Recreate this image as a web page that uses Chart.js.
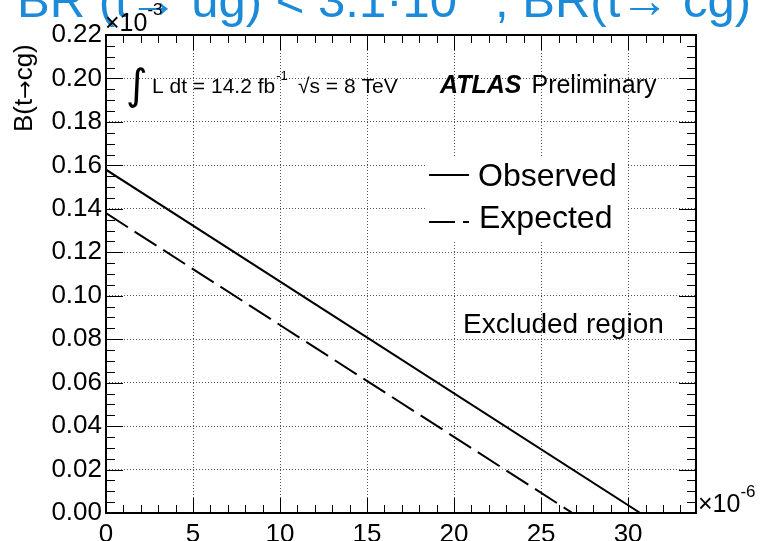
<!DOCTYPE html>
<html>
<head>
<meta charset="utf-8">
<script src="https://cdn.jsdelivr.net/npm/chart.js@4/dist/chart.umd.min.js"></script>
<style>
    html, body { margin: 0; padding: 0; background: #fff; }
    canvas { display: block; }
</style>
</head>
<body>
<canvas id="limitChart" width="763" height="541"></canvas>
<script>
// x in units of 1e-6 (BR t->ug), y in units of 1e-3 (BR t->cg)
const xTickValues = [0, 5, 10, 15, 20, 25, 30];
const yTickValues = [0, 0.02, 0.04, 0.06, 0.08, 0.10, 0.12, 0.14, 0.16, 0.18, 0.20, 0.22];
const observedX = [0, 30.7];
const observedY = [0.158, 0];
const expectedX = [0, 26.8];
const expectedY = [0.138, 0];
const xMax = 33.9;
const yMax = 0.22;

const FONT = '"Liberation Sans", Arial, Helvetica, sans-serif';
const ARROW_FONT = '"DejaVu Sans", sans-serif';

function toPoints(xs, ys) {
    return xs.map((x, i) => ({ x: x, y: ys[i] }));
}

function txt(ctx, s, x, y, size, opts) {
    opts = opts || {};
    ctx.font = (opts.style || "") + " " + size + "px " + (opts.family || FONT);
    ctx.fillStyle = opts.color || "#000";
    ctx.textAlign = opts.align || "left";
    ctx.textBaseline = "alphabetic";
    ctx.fillText(s, x, y);
    return ctx.measureText(s).width;
}

// draw a string squeezed/stretched horizontally by sx
function txtScaled(ctx, s, x, y, size, sx, color) {
    ctx.save();
    ctx.translate(x, y);
    ctx.scale(sx, 1);
    const w = txt(ctx, s, 0, 0, size, { color: color });
    ctx.restore();
    return w * sx;
}

// white box behind the legend (TLegend fill)
const legendBox = {
    id: "legendBox",
    beforeDatasetsDraw(chart) {
        const ctx = chart.ctx;
        ctx.save();
        ctx.fillStyle = "#fff";
        ctx.fillRect(427, 158, 199, 84);
        ctx.restore();
    }
};

// frame, inward ticks and all the annotation text
const decorations = {
    id: "decorations",
    afterDraw(chart) {
        const ctx = chart.ctx;
        const a = chart.chartArea;
        const xs = chart.scales.x, ys = chart.scales.y;
        ctx.save();
        ctx.strokeStyle = "#000";
        ctx.lineWidth = 1;
        ctx.beginPath();
        // x ticks, bottom and top
        for (let v = 0; v <= xMax; v += 1) {
            const px = Math.round(xs.getPixelForValue(v)) + 0.5;
            const len = (v % 5 === 0) ? 15 : 8;
            ctx.moveTo(px, a.bottom); ctx.lineTo(px, a.bottom - len);
            ctx.moveTo(px, a.top); ctx.lineTo(px, a.top + len);
        }
        // y ticks, left and right
        for (let k = 0; k <= 44; k++) {
            const py = Math.round(ys.getPixelForValue(k * 0.005)) + 0.5;
            const len = (k % 4 === 0) ? 17 : 9;
            ctx.moveTo(a.left, py); ctx.lineTo(a.left + len, py);
            ctx.moveTo(a.right, py); ctx.lineTo(a.right - len, py);
        }
        ctx.stroke();
        ctx.lineWidth = 2;
        ctx.strokeRect(a.left, a.top, a.right - a.left, a.bottom - a.top);

        // title, cut by the top of the canvas
        const blue = "#1b8ad8";
        const part1 = "BR (t→ ug) < 3.1·10";
        ctx.font = "49px " + FONT;
        const sx = (457 - 17) / ctx.measureText(part1).width;
        txtScaled(ctx, part1, 17, 17, 49, sx, blue);
        txt(ctx, "-5", 460, -5, 30, { color: blue });
        txtScaled(ctx, ", BR(t→ cg) < 1.6·10", 495, 17, 49, sx, blue);

        // exponents of the axes
        let w = txt(ctx, "×10", 105, 31, 25);
        txt(ctx, "-3", 105 + w, 15, 17);
        w = txt(ctx, "×10", 698, 512, 25);
        txt(ctx, "-6", 698 + w, 497, 17);

        // y axis title, written bottom to top, ending at the top of the frame
        ctx.save();
        ctx.translate(32, 132);
        ctx.rotate(-Math.PI / 2);
        let t = txt(ctx, "B(t", 0, 0, 26);
        t += txt(ctx, "→", t, 0, 22, { family: ARROW_FONT });
        txt(ctx, "cg)", t, 0, 26);
        ctx.restore();

        // luminosity / energy
        txt(ctx, "∫", 126, 99, 42, { family: ARROW_FONT });
        let x = 152;
        x += txt(ctx, "L dt = 14.2 fb", x, 93, 21);
        txt(ctx, "-1", x + 1, 80, 13);
        txt(ctx, "√s = 8 TeV", 298, 93, 21);

        // ATLAS Preliminary
        w = txt(ctx, "ATLAS", 440, 93, 25, { style: "italic bold" });
        txt(ctx, "Preliminary", 440 + w + 10, 93, 25);

        // legend
        ctx.lineWidth = 2;
        ctx.beginPath();
        ctx.moveTo(429, 175); ctx.lineTo(469, 175);
        ctx.stroke();
        ctx.setLineDash([26, 8]);
        ctx.beginPath();
        ctx.moveTo(429, 222); ctx.lineTo(469, 222);
        ctx.stroke();
        ctx.setLineDash([]);
        txt(ctx, "Observed", 478, 186, 32);
        txt(ctx, "Expected", 479, 228, 32);

        txt(ctx, "Excluded region", 463, 333, 28);
        ctx.restore();
    }
};

const ctx = document.getElementById("limitChart").getContext("2d");

new Chart(ctx, {
    type: "scatter",
    data: {
        datasets: [
            {
                label: "Observed",
                data: toPoints(observedX, observedY),
                showLine: true,
                borderColor: "#000",
                borderWidth: 2,
                pointRadius: 0
            },
            {
                label: "Expected",
                data: toPoints(expectedX, expectedY),
                showLine: true,
                borderColor: "#000",
                borderWidth: 2,
                borderDash: [26, 8],
                pointRadius: 0
            }
        ]
    },
    options: {
        responsive: false,
        animation: false,
        layout: { padding: { top: 35, right: 67, left: 0, bottom: 0 } },
        plugins: {
            legend: { display: false },
            tooltip: { enabled: false }
        },
        scales: {
            x: {
                type: "linear",
                min: 0,
                max: xMax,
                afterBuildTicks: s => { s.ticks = xTickValues.map(v => ({ value: v })); },
                afterFit: s => { s.height = 28; },
                ticks: {
                    color: "#000",
                    font: { family: FONT, size: 26 },
                    padding: 6,
                    maxRotation: 0,
                    callback: v => String(v)
                },
                grid: { color: "#555", lineWidth: 1, drawTicks: false, borderDash: [1, 2] },
                border: { display: false, dash: [1, 2] }
            },
            y: {
                type: "linear",
                min: 0,
                max: yMax,
                afterBuildTicks: s => { s.ticks = yTickValues.map(v => ({ value: v })); },
                afterFit: s => { s.width = 106; },
                ticks: {
                    color: "#000",
                    font: { family: FONT, size: 26 },
                    padding: 4,
                    callback: v => v.toFixed(2)
                },
                grid: { color: "#555", lineWidth: 1, drawTicks: false, borderDash: [1, 2] },
                border: { display: false, dash: [1, 2] }
            }
        }
    },
    plugins: [legendBox, decorations]
});
</script>
</body>
</html>
